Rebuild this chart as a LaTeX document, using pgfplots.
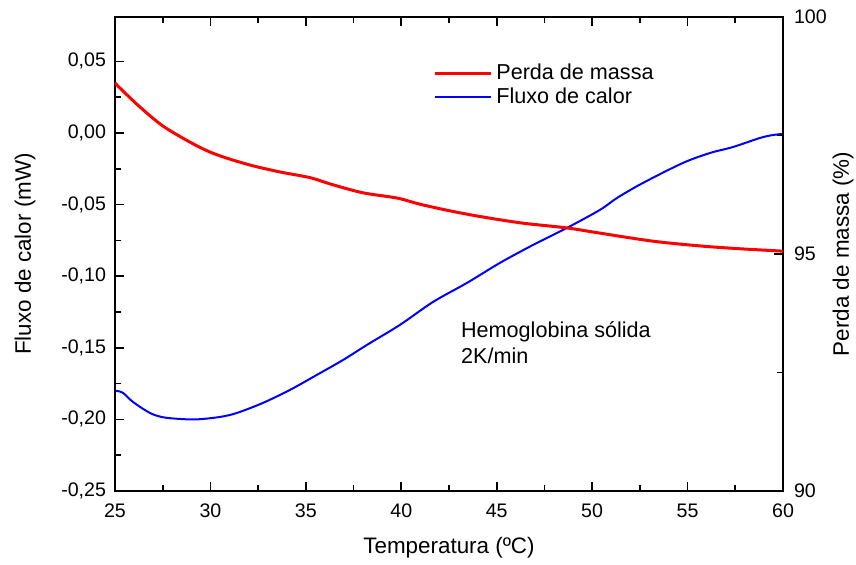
\documentclass[border=0pt]{standalone}
\usepackage{fontspec}
\setmainfont{Liberation Sans}
\usepackage{pgfplots}
\pgfplotsset{compat=1.18}

% heat flow (mW), left axis
\pgfplotstableread{
T      q
25.00 -0.1808
25.10 -0.1801
25.42 -0.1815
25.94 -0.1878
26.83 -0.1955
27.51 -0.1985
28.40 -0.1997
29.30 -0.2000
30.50 -0.1983
31.39 -0.1955
32.75 -0.1885
34.17 -0.1794
35.58 -0.1689
36.95 -0.1585
38.20 -0.1480
39.93 -0.1340
41.66 -0.1180
43.44 -0.1047
45.17 -0.0907
46.90 -0.0782
48.68 -0.0663
50.41 -0.0537
51.30 -0.0454
52.66 -0.0349
54.76 -0.0209
56.17 -0.0140
57.38 -0.0098
58.79 -0.0035
59.48 -0.0014
60.00 -0.0007
}\fluxo

% mass (%), right axis
\pgfplotstableread{
T      m
25.00 98.61
25.26 98.50
26.31 98.10
27.51 97.70
28.93 97.36
29.98 97.15
31.03 97.00
32.23 96.86
33.65 96.73
35.22 96.61
36.42 96.46
38.00 96.29
39.78 96.18
40.98 96.05
42.55 95.91
44.28 95.78
46.38 95.65
48.68 95.55
50.41 95.44
53.19 95.27
55.65 95.17
57.75 95.11
60.00 95.06
}\massa

\pgfplotsset{
  comum/.style={
    scale only axis, width=334pt, height=237pt,
    xmin=25, xmax=60, xtick={25,30,...,60}, minor x tick num=1,
    tick align=inside, major tick length=4.5pt, minor tick length=2.8pt,
    axis line style={line width=0.9pt},
    every tick/.style={black, line width=0.8pt},
    tick label style={font=\fontsize{9.8}{11.6}\selectfont},
    label style={font=\fontsize{11.2}{13.4}\selectfont},
    /pgf/number format/assume math mode=true,
  }
}

\begin{document}
\begin{tikzpicture}
\begin{axis}[
    comum, name=ax,
    xtick pos=both, ytick pos=left,
    ymin=-0.25, ymax=0.081,
    ytick={-0.25,-0.20,-0.15,-0.10,-0.05,0,0.05},
    minor y tick num=1,
    scaled y ticks=false,
    yticklabel style={/pgf/number format/fixed, /pgf/number format/fixed zerofill,
      /pgf/number format/precision=2, /pgf/number format/use comma, xshift=-1pt},
    xticklabel style={yshift=-3pt},
    xlabel={Temperatura (ºC)},
    ylabel={Fluxo de calor (mW)},
    xlabel style={at={(rel axis cs:0.5,0)}, anchor=center, yshift=-28.5pt},
    ylabel style={at={(rel axis cs:0,0.5)}, anchor=center, yshift=45pt},
  ]
  \addplot[blue, line width=1pt, smooth] table[x=T, y=q] {\fluxo};
\end{axis}
\begin{axis}[
    comum,
    hide x axis,
    ytick pos=right,
    ymin=90, ymax=100, ytick={90,95,100}, minor y tick num=1,
    yticklabel style={xshift=2pt},
    ylabel={Perda de massa (\%)},
    ylabel style={at={(rel axis cs:1,0.5)}, anchor=center, yshift=-30pt},
    legend image code/.code={\draw[#1] (0pt,0pt) -- (28pt,0pt);},
    legend cell align=left,
    legend style={at={(rel axis cs:0.467,0.918)}, anchor=north west, draw=none, fill=none,
      font=\fontsize{10.8}{12.8}\selectfont, row sep=-1.7pt},
  ]
  \addplot[red, line width=1.5pt, smooth] table[x=T, y=m] {\massa};
  \addlegendentry{Perda de massa}
  \addlegendimage{blue, line width=1pt}
  \addlegendentry{Fluxo de calor}
  \node[anchor=north west, align=left, inner sep=0pt, font=\fontsize{10.8}{13}\selectfont]
    at (rel axis cs:0.5175,0.3586) {Hemoglobina sólida\\2K/min};
\end{axis}
\pgfresetboundingbox
\path[use as bounding box] (ax.south west) ++(-57.5pt,-37pt) rectangle ++(428pt,282.5pt);
\end{tikzpicture}
\end{document}
